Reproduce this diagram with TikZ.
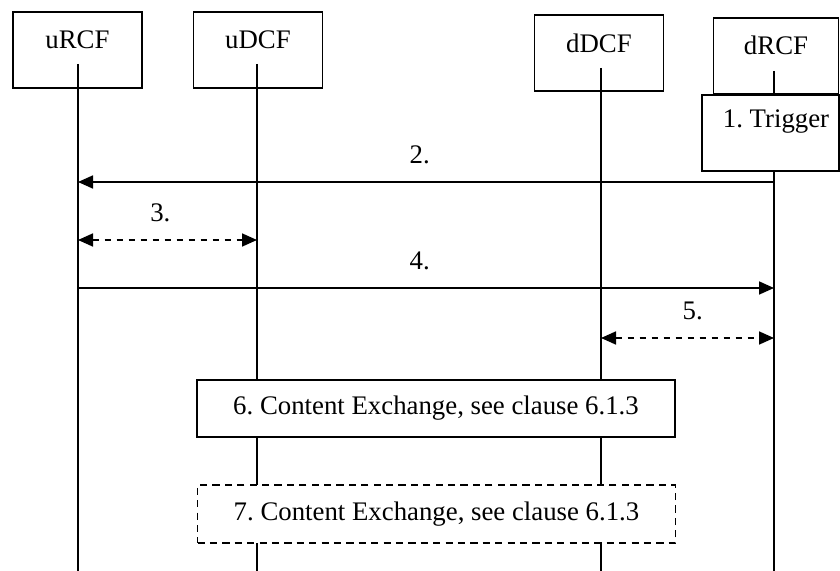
\documentclass[tikz,border=0pt]{standalone}
\usepackage{fontspec}
\setmainfont{Liberation Serif}
\usetikzlibrary{positioning,arrows.meta}
\frenchspacing

\tikzset{
	entity/.style={shape=rectangle,draw,fill=white,minimum width=64.5pt,minimum height=38pt,inner sep=0pt},
	procbox/.style={shape=rectangle,draw,fill=white,minimum width=239pt,minimum height=28.5pt,inner sep=0pt},
	msg/.style={-{Triangle[length=7.5pt,width=6.5pt]}},
	optmsg/.style={{Triangle[length=7.5pt,width=6.5pt]}-{Triangle[length=7.5pt,width=6.5pt]},dash pattern=on 3.4pt off 2.6pt},
	msglabel/.style={above=5.5pt,inner sep=3.33pt}
}

\begin{document}
\begin{tikzpicture}[x=0.5pt,y=-0.5pt,line width=0.85pt,font=\fontsize{13.4}{16}\selectfont]
		\useasboundingbox (0,0) rectangle (840,571);
		% entities
		\node(urcf) [entity] at (77.5,50) {};
		\node(urcf-l) at (77.5,40) {uRCF};
		\node(udcf) [entity] at (258,50) {};
		\node(udcf-l) at (258,40) {uDCF};
		\node(ddcf) [entity] at (599,53) {};
		\node(ddcf-l) at (599,43) {dDCF};
		\node(drcf) [entity,minimum width=62.5pt] at (776,56) {};
		\node(drcf-l) at (776,45) {dRCF};
		% lifelines
		\foreach \n/\x/\y in {urcf/78/64,udcf/257/64,ddcf/601/68,drcf/774/71} {
			\coordinate (\n-top) at (\x,\y);
			\coordinate (\n-bot) at (\x,571);
			\draw (\n-top) -- (\n-bot);
		}
		% rows of the messages
		\coordinate (m2) at (0,182);
		\coordinate (m3) at (0,240);
		\coordinate (m4) at (0,288);
		\coordinate (m5) at (0,338);
		% 1.
		\node(trig) [entity,minimum width=68.5pt] at (770.5,133) {};
		\node(trig-l) at (776,122) {1. Trigger};
		% 2. - 5.
		\draw [msg] (drcf-top |- m2) -- (urcf-top |- m2) node [pos=0.509,msglabel] {2.};
		\draw [optmsg] (urcf-top |- m3) -- (udcf-top |- m3) node [pos=0.46,msglabel] {3.};
		\draw [msg] (urcf-top |- m4) -- (drcf-top |- m4) node [pos=0.491,msglabel] {4.};
		\draw [optmsg] (ddcf-top |- m5) -- (drcf-top |- m5) node [pos=0.53,msglabel] {5.};
		% 6. and 7.
		\node(ce6) [procbox] at (436,408.5) {6. Content Exchange, see clause 6.1.3};
		\node(ce7) [procbox,minimum height=29pt,dash pattern=on 3.6pt off 2.6pt] at (436.5,514) {7. Content Exchange, see clause 6.1.3};
	\end{tikzpicture}
\end{document}
